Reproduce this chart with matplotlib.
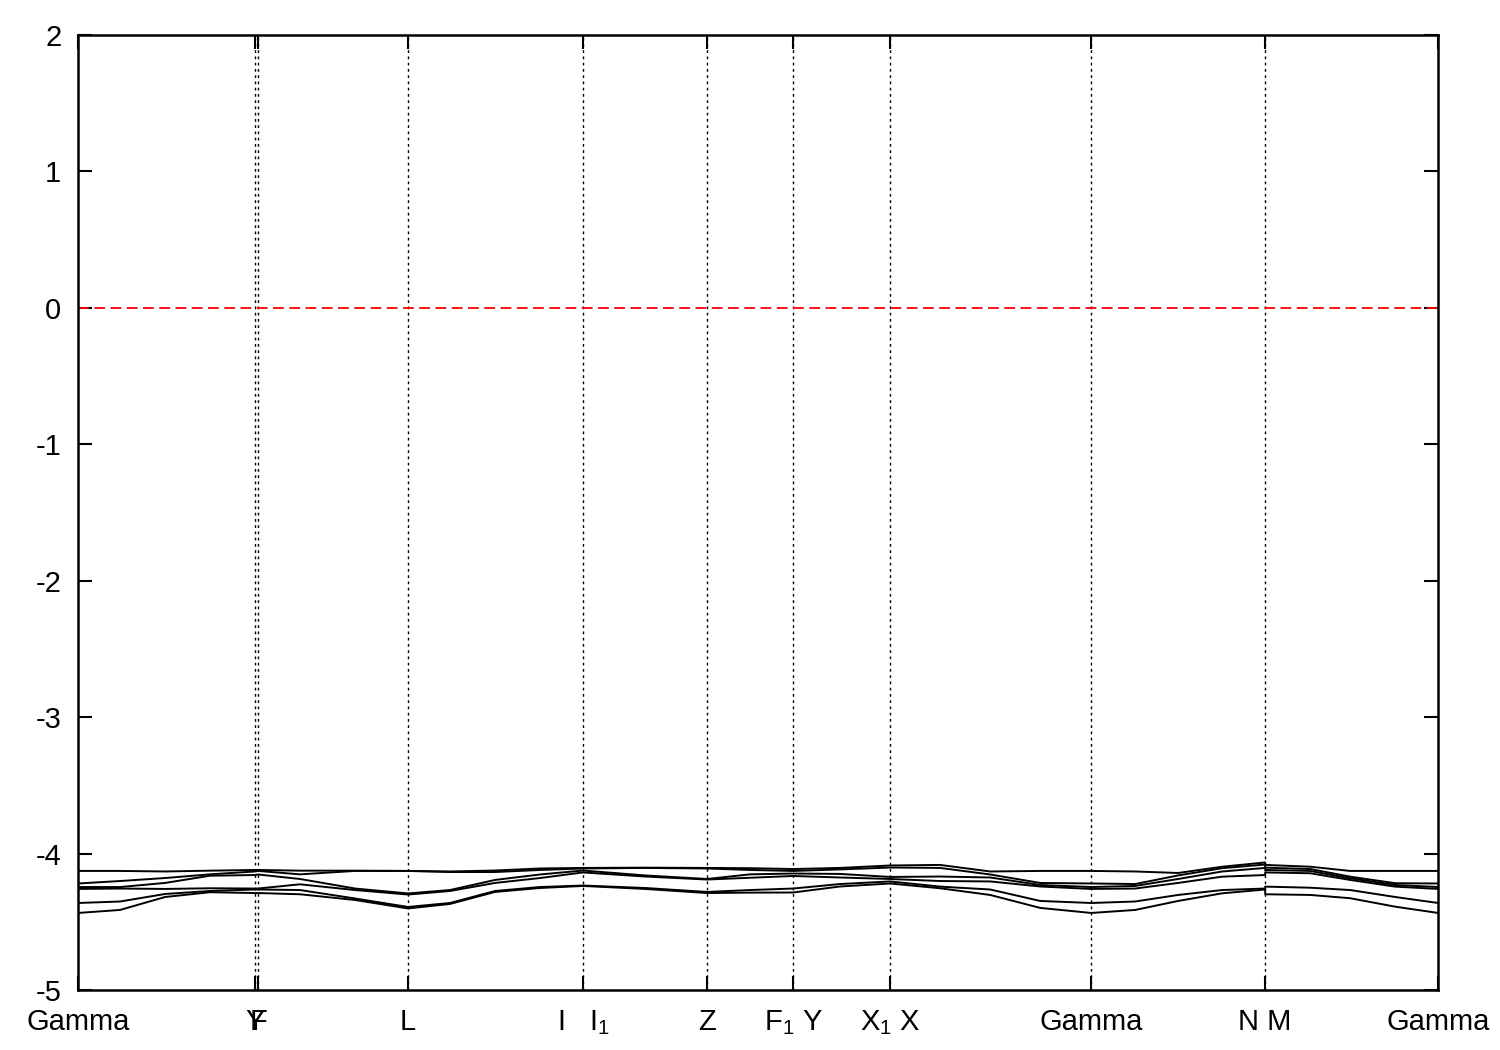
import matplotlib
matplotlib.use("Agg")
import matplotlib.pyplot as plt

plt.rcParams['font.family'] = ['Liberation Sans', 'DejaVu Sans']
plt.rcParams['mathtext.fontset'] = 'custom'
plt.rcParams['mathtext.rm'] = 'Liberation Sans'
plt.rcParams['axes.unicode_minus'] = False

# k-path coordinates (normalised path length)
k = [0.0, 0.0309, 0.0640, 0.0971, 0.1301, 0.1324, 0.1632, 0.2037, 0.2426,
     0.2735, 0.3066, 0.3397, 0.3713, 0.4169, 0.4625, 0.4941, 0.5257, 0.5603,
     0.5971, 0.6338, 0.6706, 0.7074, 0.7449, 0.7772, 0.8088, 0.8412, 0.8728,
     0.8728, 0.9059, 0.9353, 0.9684, 1.0]

# band energies (eV), bands sorted from highest to lowest
band1 = [-4.127, -4.127, -4.131, -4.125, -4.120, -4.120, -4.125, -4.125, -4.127,
         -4.131, -4.124, -4.109, -4.105, -4.103, -4.105, -4.107, -4.113, -4.105,
         -4.087, -4.083, -4.131, -4.127, -4.127, -4.131, -4.142, -4.096, -4.065,
         -4.083, -4.096, -4.127, -4.127, -4.127]
band2 = [-4.219, -4.201, -4.179, -4.152, -4.131, -4.127, -4.152, -4.127, -4.127,
         -4.135, -4.135, -4.120, -4.109, -4.105, -4.109, -4.120, -4.127, -4.116,
         -4.102, -4.105, -4.153, -4.215, -4.219, -4.223, -4.160, -4.107, -4.080,
         -4.103, -4.113, -4.169, -4.217, -4.219]
band3 = [-4.245, -4.245, -4.215, -4.162, -4.157, -4.153, -4.186, -4.256, -4.292,
         -4.267, -4.193, -4.153, -4.124, -4.160, -4.186, -4.152, -4.146, -4.149,
         -4.171, -4.168, -4.175, -4.230, -4.245, -4.237, -4.186, -4.131, -4.105,
         -4.120, -4.127, -4.181, -4.230, -4.245]
band4 = [-4.259, -4.256, -4.259, -4.254, -4.256, -4.256, -4.225, -4.267, -4.300,
         -4.274, -4.215, -4.179, -4.138, -4.168, -4.190, -4.177, -4.164, -4.175,
         -4.186, -4.201, -4.204, -4.241, -4.259, -4.256, -4.215, -4.169, -4.157,
         -4.138, -4.144, -4.193, -4.242, -4.259]
band5 = [-4.362, -4.351, -4.296, -4.274, -4.263, -4.263, -4.267, -4.329, -4.391,
         -4.362, -4.274, -4.245, -4.234, -4.252, -4.281, -4.267, -4.256, -4.223,
         -4.204, -4.242, -4.263, -4.347, -4.362, -4.351, -4.303, -4.267, -4.256,
         -4.242, -4.250, -4.267, -4.318, -4.362]
band6 = [-4.435, -4.413, -4.318, -4.283, -4.289, -4.289, -4.298, -4.340, -4.402,
         -4.369, -4.281, -4.252, -4.237, -4.259, -4.289, -4.286, -4.285, -4.241,
         -4.219, -4.254, -4.303, -4.398, -4.435, -4.413, -4.347, -4.291, -4.263,
         -4.298, -4.303, -4.327, -4.389, -4.435]
bands = [band1, band2, band3, band4, band5, band6]

# high-symmetry points
sym_pos = [0.0, 0.1301, 0.1324, 0.2426, 0.3713, 0.4625, 0.5257, 0.5971, 0.7449, 0.8728, 1.0]
sym_labels = ['Gamma', 'Y', 'F', 'L', r'I   $\mathregular{I_1}$', 'Z',
              r'$\mathregular{F_1}$ Y', r'$\mathregular{X_1}$ X', 'Gamma', 'N M', 'Gamma']

fig = plt.figure(figsize=(15, 10.5), dpi=100)
ax = fig.add_axes([0.052, 0.0571, 0.9068, 0.9096])

for b in bands:
    ax.plot(k, b, color='black', lw=1.4, solid_joinstyle='round')

for p in sym_pos[1:-1]:
    ax.axvline(p, color='black', lw=1.0, ls=(0, (2, 2.5)), zorder=1)

ax.axhline(0, color='red', lw=1.3, ls=(0, (6, 3)))

ax.set_xlim(0, 1)
ax.set_ylim(-5, 2)
ax.set_yticks(range(-5, 3))
ax.set_xticks(sym_pos)
ax.set_xticklabels(sym_labels)
ax.tick_params(axis='both', direction='in', length=10, width=1.5, labelsize=21,
               top=True, right=True)
ax.tick_params(axis='y', pad=12)
ax.tick_params(axis='x', pad=13)
for s in ax.spines.values():
    s.set_linewidth(1.8)

fig.savefig('out.png', dpi=100)
